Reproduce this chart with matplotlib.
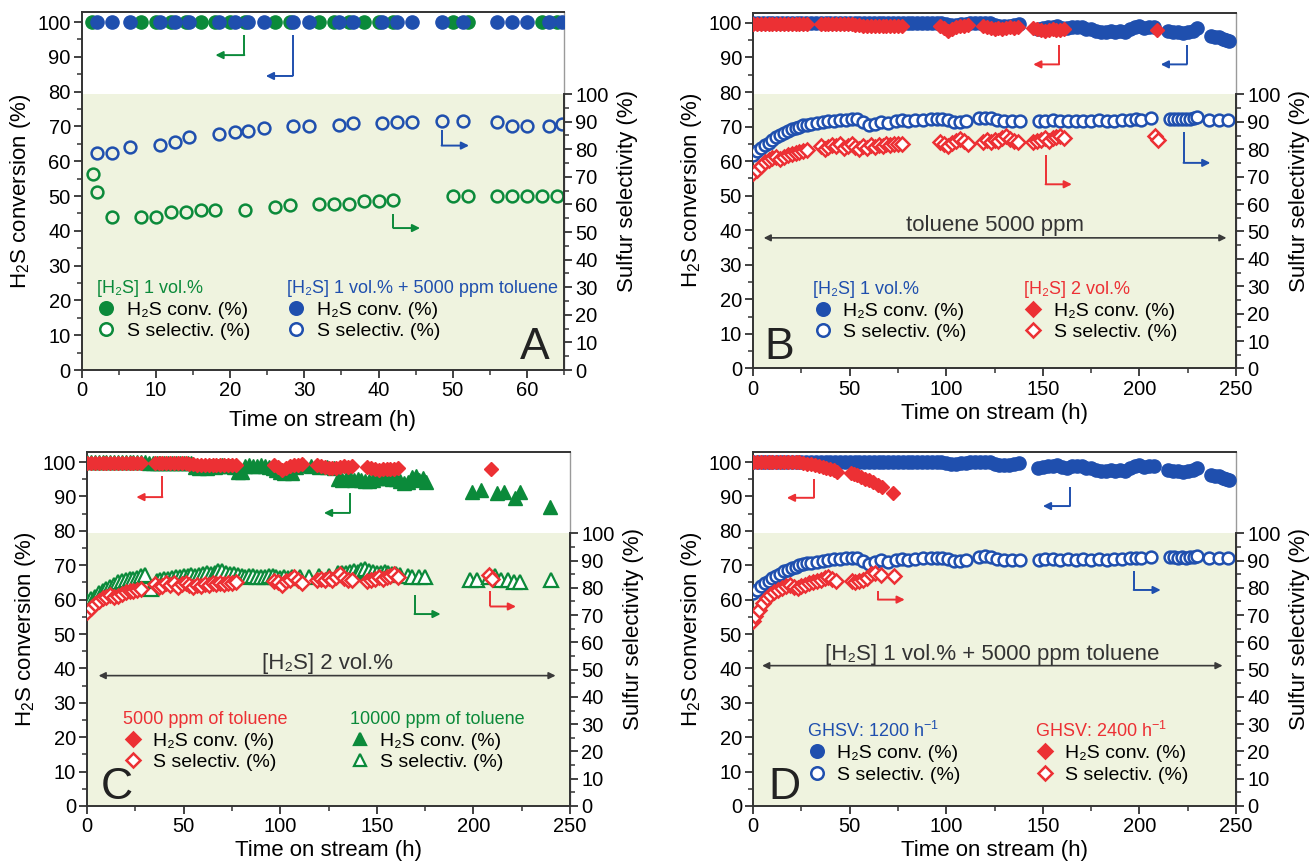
import matplotlib
matplotlib.use("Agg")
import matplotlib.pyplot as plt
from matplotlib.lines import Line2D
from matplotlib.legend import Legend
from matplotlib.ticker import MultipleLocator, FixedLocator

plt.rcParams['font.family'] = ['Liberation Sans', 'DejaVu Sans']
plt.rcParams['mathtext.fontset'] = 'custom'
plt.rcParams['mathtext.rm'] = 'Liberation Sans'

BLUE = '#1f4fae'
GREEN = '#0b8a3a'
RED = '#ec3034'
SHADE = '#eff3df'
SPINE = '#333333'

# ---------------- Panel A data ----------------
a_green_conv_x = [1.4, 8, 10, 12, 14, 16, 18, 20, 22, 26, 28, 32, 34, 36, 38, 40, 42, 50, 52, 62, 64]
a_green_conv_y = [100, 100, 100, 100, 100, 100, 100, 100, 100, 100, 100, 100, 100, 100, 100, 100, 100, 100, 100, 100, 100]
a_green_sel_x = [1.5, 2, 4, 8, 10, 12, 14, 16, 18, 22, 26, 28, 32, 34, 36, 38, 40, 42, 50, 52, 56, 58, 60, 62, 64]
a_green_sel_y = [71, 64.5, 55.5, 55.5, 55.3, 57.3, 57.2, 58, 58, 58, 59.2, 59.8, 60.2, 60.2, 60.2, 61.4, 61.3, 61.7,
                 63, 63.2, 63, 63, 63, 63, 63]
a_blue_conv_x = [2, 4, 6.5, 10.5, 12.5, 14.5, 18.5, 20.6, 22.4, 24.6, 28.5, 30.6, 34.6, 36.6, 40.4, 42.5, 44.5,
                 48.5, 51.4, 56, 58, 60, 63, 64.7]
a_blue_conv_y = [100, 100, 100, 100, 100, 100, 100, 100, 100, 100, 100, 100, 100, 100, 100, 100, 100,
                 100, 100, 100, 100, 100, 100, 100]
a_blue_sel_x = a_blue_conv_x
a_blue_sel_y = [78.5, 78.5, 80.7, 81.5, 82.7, 84.3, 85.5, 86.4, 86.5, 87.6, 88.5, 88.3, 88.9, 89.4, 89.7, 90, 90,
                90.2, 90.3, 90, 88.5, 88.5, 88.3, 89.1]

# ------- 1 vol.% H2S + 5000 ppm toluene, GHSV 1200 (panels B and D, blue) -------
blue_conv_x = [0, 2.5, 5, 7.5, 10, 12.5, 15, 17.5, 20, 22.5, 25, 27.5, 30, 32.5, 35, 37.5, 40, 42.5, 45, 47.5,
               50, 52.5, 55, 57.5, 60, 62.5, 65, 67.5, 70, 72.5, 75, 77.5, 80, 82.5, 85, 87.5, 90, 92.5, 95, 97.5,
               100, 102.5, 105, 107.5, 110, 112.5, 115, 117.5, 120, 122.5, 125, 127.5, 130, 132.5, 135, 137.5,
               147.5, 150, 152.5, 155, 157.5, 160, 162.5, 165, 167.5, 170, 172.5, 175, 177.5, 180, 182.5, 185,
               187.5, 190, 192.5, 195, 197.5, 200, 202.5, 205, 207.5,
               215, 217.5, 220, 222.5, 225, 227.5, 230,
               237, 239, 241, 243, 245, 246.5]
blue_conv_y = [100, 100, 100, 100, 100, 100, 100, 100, 100, 100, 100, 100, 100, 100, 100, 100, 100, 100, 100, 100,
               100, 100, 100, 100, 100, 100, 100, 100, 100, 100, 100, 100, 100, 100, 100, 100, 100, 100, 100, 100,
               99.6, 99.4, 99.5, 99.6, 99.8, 100, 100, 100, 100, 100, 99.5, 99.2, 99.1, 99.2, 99.4, 99.6,
               98.2, 98.6, 98.8, 98.9, 99.1, 98.6, 98.4, 98.8, 98.9, 98.7, 98.3, 98.2, 97.8, 97.5, 97.4, 97.6,
               97.4, 97.8, 97.3, 98.2, 98.7, 99.0, 98.6, 98.9, 98.8,
               97.8, 97.5, 97.4, 97.2, 97.5, 97.8, 98.4,
               96.3, 96.0, 95.8, 95.4, 95.0, 94.8]
blue_sel_x = [0, 2, 4, 6, 8, 10, 12, 14, 16, 18, 20, 22, 24, 26, 28, 30, 33, 36, 39, 42, 45, 48, 51, 54, 57, 60,
              63, 66, 70, 74, 77, 80, 84, 88, 92, 95, 98, 101, 104, 107, 110, 117, 120, 123, 126, 130, 134, 138,
              148, 151, 155, 159, 163, 167, 171, 175, 179, 183, 187, 191, 195, 198, 201, 206,
              216, 218, 220, 222, 224, 226, 228, 230,
              236, 241, 246]
blue_sel_y = [78, 79.3, 80.6, 81.6, 82.4, 83.5, 84.4, 85.2, 86, 86.7, 87.3, 87.8, 88.3, 88.7, 89, 89.2, 89.5, 89.9,
              90.2, 90.4, 90.5, 90.8, 91.1, 90.9, 89.8, 88.7, 89.4, 90.1, 89.6, 90.2, 90.5, 90.2, 90.6, 90.8, 90.9,
              91.1, 91.1, 90.7, 90.0, 89.8, 90.3, 91.3, 91.5, 91.3, 90.7, 90.2, 90.2, 90.2,
              90.2, 90.4, 90.5, 90.3, 90.4, 90.3, 90.4, 90.3, 90.5, 90.3, 90.4, 90.6, 90.8, 90.9, 90.8, 91.3,
              91.2, 91.2, 91.1, 91.2, 91.1, 91.2, 91.3, 91.7,
              90.8, 90.8, 90.8]

# ------- 2 vol.% H2S + 5000 ppm toluene (panels B and C, red) -------
red_conv_x = [0, 2, 4, 6, 8, 10, 12, 14, 16, 18, 20, 22, 24, 26, 28,
              35, 37, 39, 41, 43, 45, 47, 49, 51, 53, 55, 57, 59, 61, 63, 65, 67, 69, 71, 73, 75, 77,
              97, 99, 101, 103, 105, 107, 109, 111,
              119, 121, 123, 125, 127, 129, 131, 133, 135, 137,
              145, 147, 149, 151, 153, 155, 157, 159, 161,
              209]
red_conv_y = [99.8, 99.8, 99.8, 99.8, 99.8, 99.8, 99.8, 99.8, 99.8, 99.8, 99.8, 99.8, 99.8, 99.8, 99.8,
              99.6, 99.6, 99.6, 99.6, 99.6, 99.6, 99.6, 99.6, 99.6, 99.5, 99.4, 99.2, 99.2, 99.1, 99.2, 99.2,
              99.1, 99.2, 99.2, 99.1, 99.2, 99.2,
              99.0, 98.6, 97.6, 98.2, 98.8, 99.0, 99.2, 99.3,
              99.0, 98.7, 98.5, 98.3, 98.4, 98.3, 98.5, 98.8, 98.6, 98.8,
              98.5, 98.2, 98.0, 97.8, 98.0, 98.1, 97.9, 98.0, 98.2,
              97.9]
red_sel_x = [0, 2, 4, 6, 8, 10, 12, 14, 16, 18, 20, 22, 24, 26, 28,
             35, 37, 39, 41, 43, 45, 47, 49, 51, 53, 55, 57, 59, 61, 63, 65, 67, 69, 71, 73, 75, 77,
             97, 99, 101, 103, 105, 107, 109, 111,
             119, 121, 123, 125, 127, 129, 131, 133, 135, 137,
             145, 147, 149, 151, 153, 155, 157, 159, 161,
             208, 209.5]
red_sel_y = [71.2, 72.6, 74.0, 75.2, 76.2, 76.8, 77.2, 76.5, 77.0, 77.8, 78.3, 78.7, 79.0, 79.3, 79.7,
             81.3, 80.2, 80.8, 81.6, 81.2, 81.9, 80.4, 81.3, 81.8, 80.9, 80.2, 81.1, 80.6, 81.4, 81.0, 81.6,
             81.3, 81.8, 81.5, 81.9, 81.8, 82.0,
             82.6, 82.0, 81.2, 82.4, 83.0, 83.8, 82.9, 81.8,
             82.8, 83.2, 82.7, 83.5, 82.9, 84.0, 84.9, 83.6, 83.0, 82.7,
             82.6, 82.9, 83.4, 84.0, 83.1, 84.0, 84.5, 84.9, 84.1,
             84.8, 83.3]

# ------- 2 vol.% H2S + 10000 ppm toluene (panel C, green) -------
green_conv_x = [0, 2, 4, 6, 8, 10, 12, 14, 16, 18, 20, 22, 24, 26, 28, 30, 32, 34, 36, 38, 40, 42, 44, 46, 48,
                50, 52, 54, 56, 58, 60, 62, 64, 66, 68, 70, 72, 74, 76, 78, 80, 82, 84, 86, 88, 90, 92, 94, 96,
                98, 100, 102, 104, 106, 108, 112, 116, 120, 124, 128,
                130, 132, 134, 136, 138, 140, 142, 144, 146, 148, 150, 152, 154, 156, 158, 160, 162, 164, 166,
                168, 170, 172, 174, 175.5,
                199, 204, 212, 216, 221.5, 224, 239.6]
green_conv_y = [100, 100, 100, 100, 100, 100, 100, 100, 100, 100, 100, 100, 100, 100, 100, 100, 99.8, 99.6, 99.6,
                99.6, 99.6, 99.6, 99.6, 99.6, 99.6, 99.6, 99.6, 99.6, 98.5, 98.3, 98.6, 98.2, 98.8, 98.5, 98.9,
                99.0, 98.7, 98.9, 98.6, 97.0, 97.2, 98.8, 99.0, 98.9, 98.7, 99.0, 98.8, 98.5, 98.3,
                97.8, 97.0, 96.7, 97.2, 96.8, 98.5, 99.0, 98.8, 98.6, 98.5, 98.4,
                95.2, 94.8, 95.0, 95.4, 94.8, 95.0, 94.9, 94.5, 94.4, 94.8, 95.3, 95.5, 95.6, 95.3, 95.2, 95.0,
                94.6, 94.0, 94.2, 95.6, 95.8, 94.8, 95.5, 94.3,
                91.4, 91.9, 90.9, 91.4, 89.4, 91.4, 87.0]
green_sel_x = [0, 2, 4, 6, 8, 10, 12, 14, 16, 18, 20, 22, 24, 26, 28, 30, 33,
               36, 38, 40, 42, 44, 46, 48, 50, 52, 54,
               56, 58, 60, 62, 64, 66, 68, 70, 72, 74, 76, 78, 80, 82, 84, 86, 88, 90, 92, 94, 96, 98, 100, 102,
               104, 106, 110, 115, 120, 125,
               130, 132, 134, 136, 138, 140, 142, 144, 146, 148, 150, 152, 154, 156, 158, 160, 162, 166, 168,
               172, 175,
               198, 202, 208, 211, 214, 218, 221, 224, 240]
green_sel_y = [75.1, 75.8, 76.8, 78.0, 79.0, 79.6, 80.4, 81.2, 82.0, 82.6, 83.0, 83.2, 83.4, 83.6, 84.3, 84.6, 79.5,
               82.5, 83.0, 83.2, 83.4, 83.6, 83.8, 84.0, 84.2, 84.4, 84.6,
               84.2, 84.8, 85.0, 85.3, 85.1, 85.4, 86.0, 86.2, 85.6, 85.2, 84.9, 84.7, 84.3, 84.0, 84.3, 84.5,
               84.1, 83.8, 84.0, 84.3, 84.4, 84.0, 83.6, 83.8,
               83.5, 83.8, 84.0, 84.0, 84.2, 84.4,
               85.4, 85.6, 85.3, 85.7, 86.1, 85.8, 86.4, 86.8, 86.2, 85.8, 85.4, 85.6, 85.8, 85.4, 85.2, 85.0,
               84.6, 84.3, 84.0, 83.8, 84.0,
               82.9, 82.8, 83.8, 84.2, 82.8, 83.0, 82.2, 82.0, 82.8]

# ------- 1 vol.% H2S + 5000 ppm toluene, GHSV 2400 (panel D, red) -------
d_red_conv_x = [0, 2, 4, 6, 8, 10, 12, 14, 16, 18, 20, 22, 24, 26, 28, 30, 32, 34, 36, 38, 40, 42, 43.5,
                50.5, 52, 54, 56, 58, 60, 62, 64.5, 66.5, 72.5]
d_red_conv_y = [100, 100, 100, 100, 100, 100, 100, 100, 100, 100, 100, 100, 99.9, 99.7, 99.5, 99.3, 99.1, 98.9,
                98.6, 98.4, 98.1, 97.8, 97.2, 96.9, 96.5, 96.1, 95.7, 95.2, 94.7, 94.1, 93.4, 92.6, 91.0]
d_red_sel_x = [0, 1, 3, 5, 7, 9, 11, 13, 15, 17, 19, 21, 23, 25, 27, 29, 31, 33, 35, 37, 39, 41, 43,
               51, 53, 55, 57, 59, 61, 63, 66, 73]
d_red_sel_y = [67.8, 69.6, 72.0, 74.5, 76.3, 77.5, 78.4, 79.1, 80.0, 80.6, 81.2, 80.4, 80.0, 80.6, 81.2, 81.6,
               82.0, 82.4, 83.0, 83.6, 84.0, 83.4, 82.4, 82.6, 82.2, 82.5, 83.0, 83.6, 85.0, 85.4, 84.6, 84.2]

YTOP = 103.0
RATIO = 0.793  # right axis 100 aligns with left ~79.3
TICK_FS = 14.5
LABEL_FS = 16

fig = plt.figure(figsize=(13.09, 8.66), dpi=100)

positions = {
    'A': [0.0626, 0.5727, 0.3682, 0.4139],
    'B': [0.5753, 0.5745, 0.3690, 0.4110],
    'C': [0.0665, 0.0693, 0.3690, 0.4091],
    'D': [0.5753, 0.0693, 0.3690, 0.4091],
}


def make_axes(key, xmax, xmajor, xminor, xlabelpad=3):
    ax = fig.add_axes(positions[key])
    ax.set_xlim(0, xmax)
    ax.set_ylim(0, YTOP)
    ax.axhspan(0, 100 * RATIO, color=SHADE, zorder=0, lw=0)
    ax.xaxis.set_major_locator(MultipleLocator(xmajor))
    ax.xaxis.set_minor_locator(MultipleLocator(xminor))
    ax.yaxis.set_major_locator(MultipleLocator(10))
    ax.yaxis.set_minor_locator(MultipleLocator(5))
    ax.tick_params(which='major', direction='out', length=6, width=1.3, labelsize=TICK_FS, color=SPINE, pad=2)
    ax.tick_params(which='minor', direction='out', length=3.5, width=1.1, color=SPINE)
    for s in ['left', 'bottom', 'top']:
        ax.spines[s].set_color(SPINE)
        ax.spines[s].set_linewidth(1.4)
    ax.spines['right'].set_color('#9a9a9a')
    ax.spines['right'].set_linewidth(1.0)
    ax.set_ylabel('H$_2$S conversion (%)', fontsize=LABEL_FS, labelpad=3)
    ax.set_xlabel('Time on stream (h)', fontsize=LABEL_FS, labelpad=xlabelpad)

    tw = ax.twinx()
    tw.spines['right'].set_bounds(0, 100)
    tw.spines['right'].set_color(SPINE)
    tw.spines['right'].set_linewidth(1.4)
    for s in ['left', 'top', 'bottom']:
        tw.spines[s].set_visible(False)
    tw.set_yticks(range(0, 101, 10))
    tw.yaxis.set_minor_locator(FixedLocator([5, 15, 25, 35, 45, 55, 65, 75, 85, 95]))
    tw.set_ylim(0, YTOP / RATIO)
    tw.tick_params(which='major', direction='out', length=6, width=1.3, labelsize=TICK_FS, color=SPINE, pad=2)
    tw.tick_params(which='minor', direction='out', length=3.5, width=1.1, color=SPINE)
    tw.set_ylabel('Sulfur selectivity (%)', fontsize=LABEL_FS, labelpad=6)
    return ax, tw


def bent_arrow(ax, xv, ytop, ybot, xend, color):
    ax.plot([xv, xv], [ytop, ybot], color=color, lw=1.4, zorder=3, solid_capstyle='butt')
    ax.annotate('', xy=(xend, ybot), xytext=(xv, ybot),
                arrowprops=dict(arrowstyle='-|>', color=color, lw=1.4, mutation_scale=11,
                                shrinkA=0, shrinkB=0), zorder=3)


def span_arrow(ax, x0, x1, y, text, ty):
    ax.annotate('', xy=(x1, y), xytext=(x0, y),
                arrowprops=dict(arrowstyle='<|-|>', color='#3a3a3a', lw=1.2, mutation_scale=10,
                                shrinkA=0, shrinkB=0))
    ax.text((x0 + x1) / 2, ty, text, ha='center', va='center', fontsize=16, color='#333333')


def add_legend(ax, handles, labels, title, color, x, y):
    leg = Legend(ax, handles, labels, title=title, loc='upper left', bbox_to_anchor=(x, y),
                 bbox_transform=ax.transData, frameon=False, fontsize=14, title_fontsize=13,
                 handlelength=1.0, handletextpad=0.55, labelspacing=0.2, borderpad=0,
                 borderaxespad=0, alignment='left')
    leg.get_title().set_color(color)
    ax.add_artist(leg)
    return leg


def h_circle(color, filled, ms=9):
    return Line2D([], [], ls='none', marker='o', ms=ms, mfc=color if filled else 'white', mec=color, mew=1.8)


def h_diamond(color, filled, ms=9):
    return Line2D([], [], ls='none', marker='D', ms=ms * 0.8, mfc=color if filled else 'white', mec=color, mew=1.8)


def h_tri(color, filled, ms=9):
    return Line2D([], [], ls='none', marker='^', ms=ms, mfc=color if filled else 'white', mec=color, mew=1.6)


MS = 9.5
MSD = 7.5
MST = 9.5
LETTER_FS = 32
CONV = ['H₂S conv. (%)', 'S selectiv. (%)']

# ---------------- Panel A ----------------
ax, tw = make_axes('A', 65, 10, 5, xlabelpad=7)
ax.plot(a_green_conv_x, a_green_conv_y, ls='none', marker='o', ms=MS, color=GREEN, zorder=4)
ax.plot(a_blue_conv_x, a_blue_conv_y, ls='none', marker='o', ms=MS, color=BLUE, zorder=5)
tw.plot(a_green_sel_x, a_green_sel_y, ls='none', marker='o', ms=MS - 1, mfc='none', mec=GREEN, mew=1.8)
tw.plot(a_blue_sel_x, a_blue_sel_y, ls='none', marker='o', ms=MS - 1, mfc='none', mec=BLUE, mew=1.8)
bent_arrow(ax, 21.9, 96.3, 90.5, 18.0, GREEN)
bent_arrow(ax, 28.4, 96.3, 84.5, 24.8, BLUE)
bent_arrow(ax, 42.0, 44.7, 40.8, 45.6, GREEN)
bent_arrow(ax, 48.5, 68.9, 64.5, 52.2, BLUE)
add_legend(ax, [h_circle(GREEN, True), h_circle(GREEN, False)], CONV, '[H₂S] 1 vol.%', GREEN, 2.0, 25.8)
add_legend(ax, [h_circle(BLUE, True), h_circle(BLUE, False)], CONV,
           '[H₂S] 1 vol.% + 5000 ppm toluene', BLUE, 27.6, 25.8)
ax.text(63.0, 0.5, 'A', fontsize=LETTER_FS, ha='right', va='bottom', color='#222222')

# ---------------- Panel B ----------------
ax, tw = make_axes('B', 250, 50, 25)
ax.plot(blue_conv_x, blue_conv_y, ls='none', marker='o', ms=MS, color=BLUE, zorder=4)
ax.plot(red_conv_x, red_conv_y, ls='none', marker='D', ms=MSD, color=RED, zorder=5)
tw.plot(blue_sel_x, blue_sel_y, ls='none', marker='o', ms=MS - 1, mfc='white', mec=BLUE, mew=1.8)
tw.plot(red_sel_x, red_sel_y, ls='none', marker='D', ms=MSD - 0.5, mfc='white', mec=RED, mew=1.8)
bent_arrow(ax, 158.4, 93.5, 88.0, 145.0, RED)
bent_arrow(ax, 224.5, 93.5, 88.0, 211.0, BLUE)
bent_arrow(ax, 151.4, 61.7, 53.3, 165.0, RED)
bent_arrow(ax, 222.8, 68.5, 59.5, 236.7, BLUE)
span_arrow(ax, 5.5, 245, 37.8, 'toluene 5000 ppm', 41.5)
add_legend(ax, [h_circle(BLUE, True), h_circle(BLUE, False)], CONV, '[H₂S] 1 vol.%', BLUE, 31.0, 25.3)
add_legend(ax, [h_diamond(RED, True), h_diamond(RED, False)], CONV, '[H₂S] 2 vol.%', RED, 140.0, 25.3)
ax.text(6.0, 0.0, 'B', fontsize=LETTER_FS, ha='left', va='bottom', color='#222222')

# ---------------- Panel C ----------------
ax, tw = make_axes('C', 250, 50, 25)
ax.plot(green_conv_x, green_conv_y, ls='none', marker='^', ms=MST, color=GREEN, zorder=4)
ax.plot(red_conv_x, red_conv_y, ls='none', marker='D', ms=MSD, color=RED, zorder=5)
tw.plot(green_sel_x, green_sel_y, ls='none', marker='^', ms=MST, mfc='white', mec=GREEN, mew=1.6)
tw.plot(red_sel_x, red_sel_y, ls='none', marker='D', ms=MSD - 0.5, mfc='white', mec=RED, mew=1.8)
bent_arrow(ax, 39.0, 95.8, 89.8, 25.5, RED)
bent_arrow(ax, 136.0, 91.0, 85.2, 122.6, GREEN)
bent_arrow(ax, 169.5, 61.4, 55.8, 183.0, GREEN)
bent_arrow(ax, 208.8, 62.4, 58.0, 222.0, RED)
span_arrow(ax, 6.0, 242.5, 37.9, '[H₂S] 2 vol.%', 41.3)
add_legend(ax, [h_diamond(RED, True), h_diamond(RED, False)], CONV, '5000 ppm of toluene', RED, 18.5, 27.6)
add_legend(ax, [h_tri(GREEN, True), h_tri(GREEN, False)], CONV, '10000 ppm of toluene', GREEN, 136.0, 27.6)
ax.text(7.0, -0.5, 'C', fontsize=LETTER_FS, ha='left', va='bottom', color='#222222')

# ---------------- Panel D ----------------
ax, tw = make_axes('D', 250, 50, 25)
ax.plot(blue_conv_x, blue_conv_y, ls='none', marker='o', ms=MS, color=BLUE, zorder=4)
ax.plot(d_red_conv_x, d_red_conv_y, ls='none', marker='D', ms=MSD, color=RED, zorder=5)
tw.plot(blue_sel_x, blue_sel_y, ls='none', marker='o', ms=MS - 1, mfc='white', mec=BLUE, mew=1.8)
tw.plot(d_red_sel_x, d_red_sel_y, ls='none', marker='D', ms=MSD - 0.5, mfc='white', mec=RED, mew=1.8)
bent_arrow(ax, 31.4, 95.0, 89.6, 17.5, RED)
bent_arrow(ax, 164.0, 92.8, 87.2, 150.0, BLUE)
bent_arrow(ax, 64.6, 62.5, 60.0, 78.5, RED)
bent_arrow(ax, 197.0, 68.3, 62.8, 211.0, BLUE)
span_arrow(ax, 4.7, 243, 40.8, '[H₂S] 1 vol.% + 5000 ppm toluene', 44.0)
add_legend(ax, [h_circle(BLUE, True), h_circle(BLUE, False)], CONV, 'GHSV: 1200 h$^{-1}$', BLUE, 28.0, 24.8)
add_legend(ax, [h_diamond(RED, True), h_diamond(RED, False)], CONV, 'GHSV: 2400 h$^{-1}$', RED, 146.0, 24.8)
ax.text(8.0, -0.5, 'D', fontsize=LETTER_FS, ha='left', va='bottom', color='#222222')

fig.savefig('out.png', dpi=100)
